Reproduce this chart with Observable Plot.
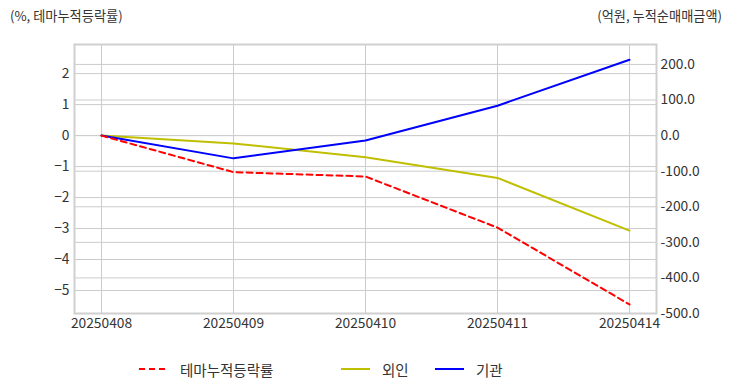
<!DOCTYPE html>
<html>
<head>
<meta charset="utf-8">
<script src="https://cdn.jsdelivr.net/npm/d3@7"></script>
<script src="https://cdn.jsdelivr.net/npm/@observablehq/plot@0.6"></script>
<style>
  body { margin: 0; background: #fff; font-family: "Noto Sans CJK KR", "Noto Sans", sans-serif; }
  #wrap { position: relative; width: 732px; height: 392px; overflow: hidden; }
  .ttl { position: absolute; top: 6px; font-size: 13.2px; color: #333; white-space: nowrap; }
  #legend { position: absolute; top: 359px; left: 0; width: 732px; height: 20px; font-size: 14.5px; color: #333; }
  .lg { position: absolute; top: 0; display: flex; align-items: center; height: 20px; }
  .lg svg { margin-right: 12px; }
  #chart { position: absolute; top: 0; left: 0; }
</style>
</head>
<body>
<div id="wrap">
  <div class="ttl" style="left:10px">(%, 테마누적등락률)</div>
  <div class="ttl" style="right:10px">(억원, 누적순매매금액)</div>
  <div id="chart"></div>
  <div id="legend"></div>
</div>
<script>
const dates = ["20250408", "20250409", "20250410", "20250411", "20250414"];
const themeReturn = [0, -1.18, -1.32, -2.97, -5.45];
const foreign = [0, -22, -61, -119, -267];
const institution = [0, -64, -14, 84, 213];
const leftTicks = [-5, -4, -3, -2, -1, 0, 1, 2];
const rightTicks = [-500, -400, -300, -200, -100, 0, 100, 200];
const seriesNames = ["테마누적등락률", "외인", "기관"];
const seriesColors = ["#ff0000", "#bfbf00", "#0000ff"];

const rightDomain = [-500, 256];
const k = 0.011484; // right-axis units -> left-axis units (zero aligned)
const leftDomain = [rightDomain[0] * k, rightDomain[1] * k];

const themeData = dates.map((d, i) => ({date: d, v: themeReturn[i]}));
const foreignData = dates.map((d, i) => ({date: d, v: foreign[i] * k}));
const instData = dates.map((d, i) => ({date: d, v: institution[i] * k}));

const grid = "#cccccc";
const fs = 13.8;
const chart = Plot.plot({
  width: 732,
  height: 340,
  marginTop: 44,
  marginBottom: 27,
  marginLeft: 74,
  marginRight: 76,
  style: {fontFamily: '"Noto Sans CJK KR", "Noto Sans", sans-serif', fontSize: fs + "px", color: "#333"},
  x: {type: "point", domain: dates, padding: 0.2},
  y: {domain: leftDomain},
  marks: [
    Plot.gridX(dates, {stroke: grid, strokeOpacity: 1, strokeWidth: 1}),
    Plot.gridY(leftTicks, {stroke: grid, strokeOpacity: 1, strokeWidth: 1}),
    Plot.gridY(rightTicks.map(v => v * k), {stroke: grid, strokeOpacity: 1, strokeWidth: 1}),
    Plot.frame({stroke: "#cfcfcf", strokeWidth: 2}),
    Plot.axisX(dates, {tickSize: 0, tickPadding: 5, label: null, fontSize: fs}),
    Plot.axisY(leftTicks, {anchor: "left", tickSize: 0, tickPadding: 5, label: null, fontSize: fs}),
    Plot.axisY(rightTicks.map(v => v * k), {anchor: "right", tickSize: 0, tickPadding: 4, label: null, tickFormat: d => (Math.round(d / k)).toFixed(1), fontSize: fs}),
    Plot.line(foreignData, {x: "date", y: "v", stroke: seriesColors[1], strokeWidth: 2}),
    Plot.line(instData, {x: "date", y: "v", stroke: seriesColors[2], strokeWidth: 2}),
    Plot.line(themeData, {x: "date", y: "v", stroke: seriesColors[0], strokeWidth: 2, strokeDasharray: "6,4"})
  ]
});
document.getElementById("chart").appendChild(chart);

// legend
const legendPos = [{line: 139, text: 180}, {line: 341, text: 382}, {line: 435, text: 477}];
const lg = document.getElementById("legend");
seriesNames.forEach((name, i) => {
  const item = document.createElement("div");
  item.className = "lg";
  item.style.left = legendPos[i].line + "px";
  const dash = i === 0 ? ' stroke-dasharray="6,4"' : '';
  item.innerHTML = `<svg width="29" height="20"><line x1="0" y1="10" x2="29" y2="10" stroke="${seriesColors[i]}" stroke-width="2"${dash}/></svg><span>${name}</span>`;
  lg.appendChild(item);
});
</script>
</body>
</html>
